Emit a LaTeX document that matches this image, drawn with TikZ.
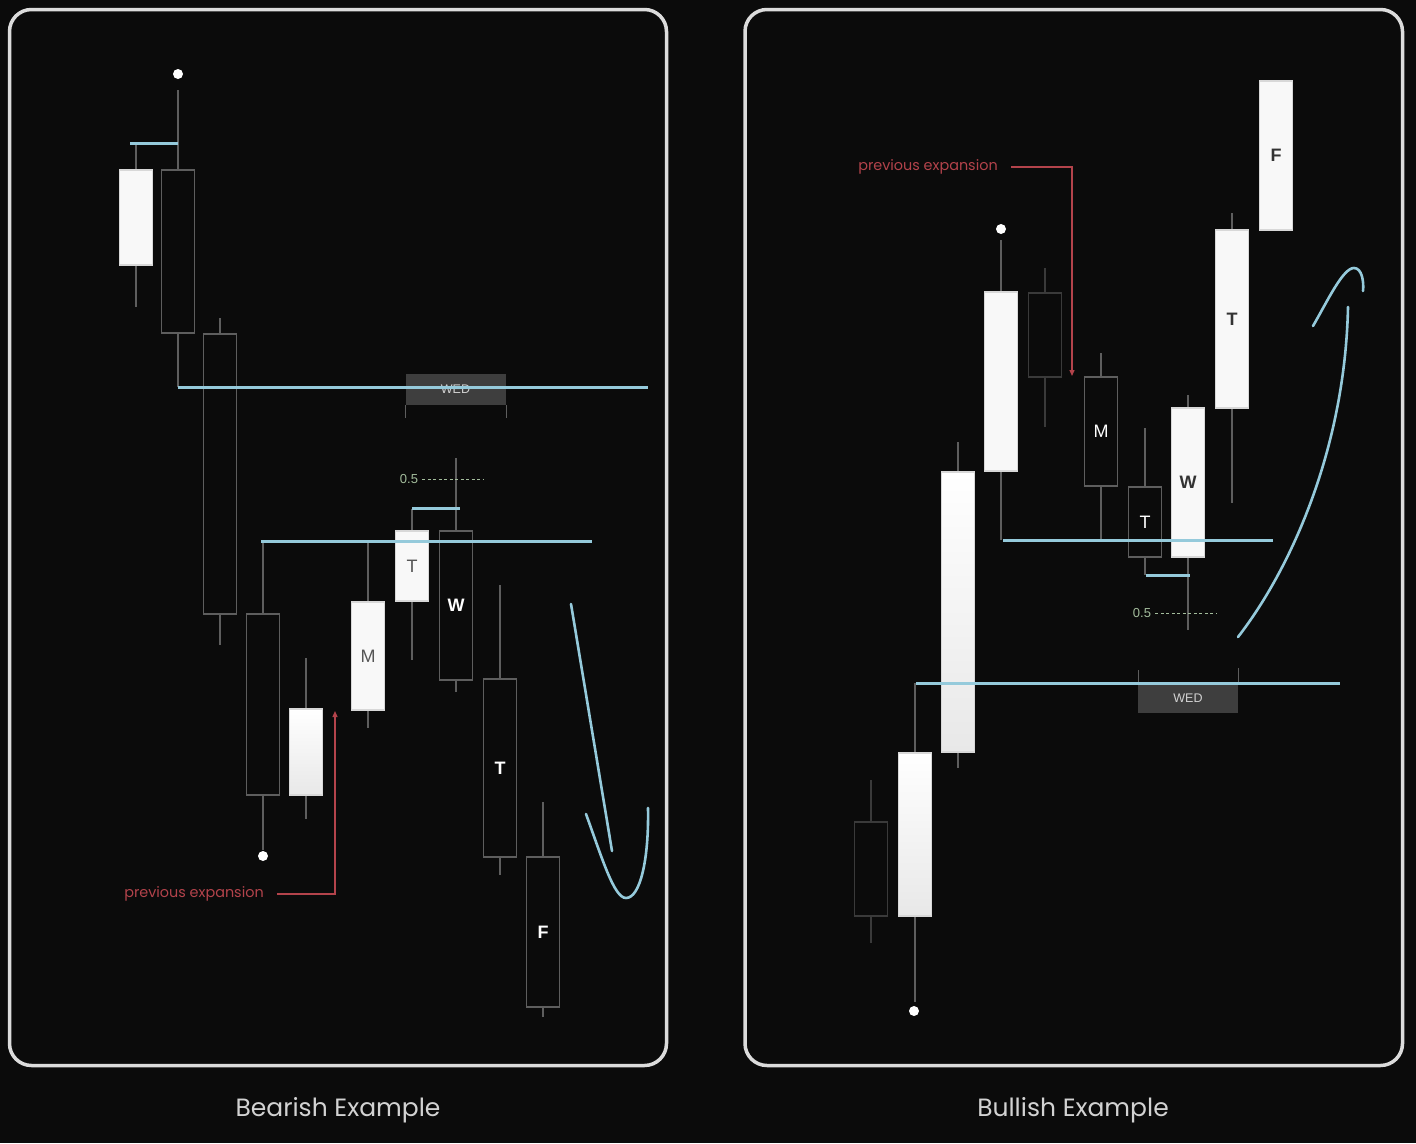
\documentclass[tikz,border=0pt]{standalone}
\usepackage{fontspec}
\setmainfont{Poppins}
\newfontfamily\arialf{Liberation Sans}
\usetikzlibrary{arrows.meta}
\definecolor{bgc}{HTML}{0B0B0B}
\definecolor{panelc}{HTML}{DCDCDC}
\definecolor{bluec}{HTML}{95CADB}
\definecolor{wickc}{HTML}{5E5E5E}
\definecolor{dimc}{HTML}{3A3A3A}
\definecolor{candlew}{HTML}{F8F8F8}
\definecolor{edgew}{HTML}{D8D8D8}
\definecolor{gradc}{HTML}{E8E8E8}
\definecolor{redc}{HTML}{B3434B}
\definecolor{greenc}{HTML}{A3BD9C}
\definecolor{wedc}{HTML}{3E3E3E}
\definecolor{captc}{HTML}{D2D2D2}
\definecolor{graytxt}{HTML}{555555}
\definecolor{darktxt}{HTML}{333333}
\newcommand\cdl[9]{%
  \draw[#9] (#2,#5) -- (#2,#6);
  \node[#7, minimum height={#4-#3}, at={(#2,{(#3+#4)/2})}] (#1) {#8};
}
\begin{document}
\begin{tikzpicture}[x=1pt,y=-1pt,
  panel/.style={draw=panelc, line width=3.5pt, rounded corners=22pt},
  bline/.style={draw=bluec, line width=3pt},
  wick/.style={draw=wickc, line width=1.2pt},
  dimwick/.style={draw=dimc, line width=1.2pt},
  body/.style={rectangle, minimum width=33pt, inner sep=0pt, outer sep=0pt, line width=1.3pt},
  hollow/.style={body, draw=wickc, fill=bgc},
  dimhollow/.style={body, draw=dimc, fill=bgc},
  wbody/.style={body, draw=edgew, fill=candlew},
  gradbody/.style={body, draw=edgew, top color=white, bottom color=gradc},
  graylab/.style={font=\arialf\fontsize{18}{18}\selectfont, text=graytxt},
  whitereg/.style={font=\arialf\fontsize{18}{18}\selectfont, text=white},
  whitebold/.style={font=\arialf\bfseries\fontsize{18}{18}\selectfont, text=white},
  darkbold/.style={font=\arialf\bfseries\fontsize{18}{18}\selectfont, text=darktxt},
  dotn/.style={circle, fill=white, minimum size=10pt, inner sep=0pt},
  wedbox/.style={rectangle, fill=wedc, minimum width=100pt, minimum height=31pt, inner sep=0pt, font=\arialf\fontsize{12.5}{12.5}\selectfont, text=captc},
  wedside/.style={draw=wickc, line width=1pt},
  halflab/.style={font=\arialf\fontsize{13}{13}\selectfont, text=greenc, inner sep=0pt},
  halfdash/.style={draw=greenc, line width=0.9pt, dash pattern=on 3pt off 2.5pt},
  pelab/.style={font=\fontsize{14.4}{14.4}\selectfont, text=redc, inner sep=0pt},
  redarrow/.style={draw=redc, line width=1.3pt, -{Triangle[length=6pt,width=5pt]}},
  caption/.style={font=\fontsize{25}{29}\selectfont, text=captc},
  swoosh/.style={draw=bluec, line width=2.6pt, line cap=round}
]
\useasboundingbox (0,0) rectangle (1416,1143);
\fill[bgc] (0,0) rectangle (1416,1143);
% panels
\draw[panel] (9.5,9.5) rectangle (666.5,1065.5);
\draw[panel] (745,9.5) rectangle (1402.5,1065.5);
% ---------------- bearish ----------------
\cdl{b1}{136}{170}{265}{143}{307}{wbody}{}{wick}
\cdl{b2}{178}{170}{333}{90}{387}{hollow}{}{wick}
\cdl{b3}{220}{334}{614}{318}{645}{hollow}{}{wick}
\cdl{b4}{263}{614}{795}{541}{850}{hollow}{}{wick}
\cdl{b5}{306}{709}{795}{658}{819}{gradbody}{}{wick}
\cdl{bM}{368}{602}{710}{542}{728}{wbody,graylab}{M}{wick}
\cdl{bT}{412}{531}{601}{509}{660}{wbody,graylab}{T}{wick}
\cdl{bW}{456}{531}{680}{458}{692}{hollow,whitebold}{W}{wick}
\cdl{bTt}{500}{679}{857}{585}{875}{hollow,whitebold}{T}{wick}
\cdl{bF}{543}{857}{1007}{802}{1017}{hollow,whitebold}{F}{wick}
\draw[wedside] (405,405) -- (405,418);
\draw[wedside] (506,405) -- (506,418);
\node[wedbox] (wedL) at (455.5,389.5) {WED};
\draw[bline] (130,143) -- (178,143);
\draw[bline] (178,387) -- (648,387);
\draw[bline] (261,541) -- (592,541);
\draw[bline] (412,508) -- (460,508);
\node[dotn] (dL1) at (178,74) {};
\node[dotn] (dL2) at (263,856) {};
\node[halflab] (hL) at (409,479) {0.5};
\coordinate (hLend) at (483,479);
\draw[halfdash] ([xshift=4pt]hL.east) -- (hLend);
\node[pelab] (peL) at (194,894) {previous expansion};
\coordinate (peLtip) at (335,711);
\draw[redarrow] ([xshift=13pt]peL.east) -| (peLtip);
\draw[swoosh] (571,604) -- (612,851);
\draw[swoosh] (586,814) .. controls (602,858) and (614,898) .. (626,898)
  .. controls (640,898) and (649,860) .. (648,808);
\node[caption] (capL) at (338,1110) {Bearish Example};
% ---------------- bullish ----------------
\cdl{uA}{871}{822}{916}{780}{943}{dimhollow}{}{dimwick}
\cdl{uB}{915}{753}{916}{683}{1002}{gradbody}{}{wick}
\cdl{uC}{958}{472}{752}{442}{768}{gradbody}{}{wick}
\cdl{uD}{1001}{292}{471}{240}{540}{wbody}{}{wick}
\cdl{uE}{1045}{293}{377}{268}{427}{dimhollow}{}{dimwick}
\cdl{uM}{1101}{377}{486}{353}{540}{hollow,whitereg}{M}{wick}
\cdl{uT}{1145}{487}{557}{428}{575}{hollow,whitereg}{T}{wick}
\cdl{uW}{1188}{408}{557}{395}{630}{wbody,darkbold}{W}{wick}
\cdl{uTt}{1232}{230}{408}{213}{503}{wbody,darkbold}{T}{wick}
\cdl{uF}{1276}{81}{230}{150}{160}{wbody,darkbold}{F}{wick}
\draw[wedside] (1138,670) -- (1138,683);
\draw[wedside] (1238,668) -- (1238,683);
\node[wedbox, minimum height=30pt] (wedR) at (1188,698) {WED};
\draw[bline] (916,683) -- (1340,683);
\draw[bline] (1003,540) -- (1273,540);
\draw[bline] (1146,575) -- (1190,575);
\node[dotn] (dR1) at (1001,229) {};
\node[dotn] (dR2) at (914,1011) {};
\node[halflab] (hR) at (1142,613) {0.5};
\coordinate (hRend) at (1216,613);
\draw[halfdash] ([xshift=4pt]hR.east) -- (hRend);
\node[pelab] (peR) at (928,167) {previous expansion};
\coordinate (peRtip) at (1072,376);
\draw[redarrow] ([xshift=13pt]peR.east) -| (peRtip);
\draw[swoosh] (1238,637) .. controls (1290,570) and (1345,450) .. (1348,307);
\draw[swoosh] (1313,326) .. controls (1328,300) and (1343,268) .. (1354,268)
  .. controls (1362,268) and (1364,282) .. (1363,291);
\node[caption] (capR) at (1073,1110) {Bullish Example};
\end{tikzpicture}
\end{document}
